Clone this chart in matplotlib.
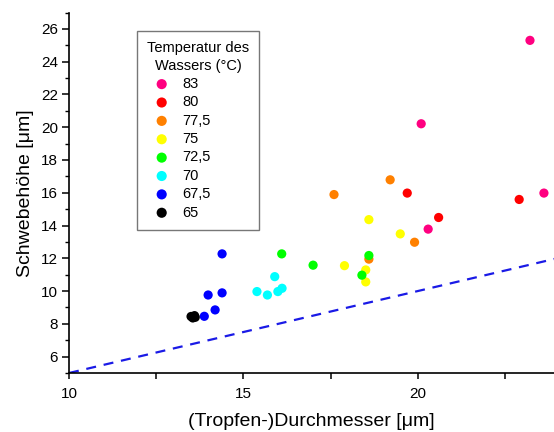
import matplotlib
matplotlib.use("Agg")
import matplotlib.pyplot as plt
from matplotlib.ticker import MultipleLocator, FuncFormatter

plt.rcParams['font.family'] = ['Liberation Sans', 'DejaVu Sans']

# Data: (diameter, height) per water temperature
temps = ["83", "80", "77,5", "75", "72,5", "70", "67,5", "65"]
colors = ["#FF0080", "#FF0000", "#FF8000", "#FFFF00", "#00FF00", "#00FFFF", "#0000FF", "#000000"]

x83 = [23.22, 20.10, 23.62, 20.30]
y83 = [25.30, 20.21, 15.98, 13.78]
x80 = [19.70, 20.60, 22.91]
y80 = [15.98, 14.49, 15.59]
x775 = [17.60, 19.21, 19.91, 18.60]
y775 = [15.89, 16.79, 12.98, 11.95]
x75 = [18.60, 19.50, 17.90, 18.51, 18.51]
y75 = [14.36, 13.49, 11.55, 11.29, 10.56]
x725 = [18.60, 18.40, 17.00, 16.10]
y725 = [12.17, 10.97, 11.58, 12.27]
x70 = [15.90, 15.39, 15.69, 15.99, 16.11]
y70 = [10.88, 9.97, 9.76, 9.97, 10.17]
x675 = [14.39, 13.99, 14.39, 14.19, 13.88]
y675 = [12.27, 9.76, 9.89, 8.85, 8.46]
x65 = [13.50, 13.60, 13.55, 13.62]
y65 = [8.45, 8.50, 8.36, 8.40]

xs = [x83, x80, x775, x75, x725, x70, x675, x65]
ys = [y83, y80, y775, y75, y725, y70, y675, y65]

line_x = [10, 24]
line_y = [5, 12]

fig = plt.figure(figsize=(5.54, 4.32), dpi=100)
ax = fig.add_axes([69/554, 1 - 373/432, 1 - 69/554, (373 - 12.5)/432])

ax.plot(line_x, line_y, color="#1a1aE6", lw=1.6, ls=(0, (4.5, 3.5)), zorder=1)

for x, y, c, t in zip(xs, ys, colors, temps):
    ax.scatter(x, y, s=44, color=c, edgecolors='none', label=t, zorder=3)

ax.set_xlim(10, 10 + (554 - 69) / 34.87)
ax.set_ylim(5, 27)

ax.spines['top'].set_visible(False)
ax.spines['right'].set_visible(False)
for s in ['left', 'bottom']:
    ax.spines[s].set_linewidth(1.2)

ax.xaxis.set_major_locator(MultipleLocator(2.5))
ax.xaxis.set_major_formatter(FuncFormatter(lambda v, p: f"{v:.0f}" if abs(v % 5) < 1e-6 else ""))
ax.yaxis.set_major_locator(MultipleLocator(2))
ax.yaxis.set_minor_locator(MultipleLocator(1))
ax.yaxis.set_major_formatter(FuncFormatter(lambda v, p: "" if v < 5.5 else f"{v:.0f}"))
ax.tick_params(axis='both', which='major', direction='out', width=1.1, labelsize=11)
ax.tick_params(axis='y', which='major', length=5, pad=3)
ax.tick_params(axis='x', which='major', length=4, pad=6)
ax.tick_params(axis='y', which='minor', direction='out', length=3, width=1.0)

ax.set_xlabel("(Tropfen-)Durchmesser [μm]", fontsize=14, labelpad=9)
ax.set_ylabel("Schwebehöhe [μm]", fontsize=14, labelpad=5)

leg = ax.legend(title="Temperatur des\nWassers (°C)", loc='upper left',
                bbox_to_anchor=(0.14, 0.95), borderaxespad=0, fontsize=10.5,
                title_fontsize=10.5, frameon=True, fancybox=False,
                handletextpad=0.4, labelspacing=0.3, borderpad=0.7,
                markerscale=1.1, scatterpoints=1)
leg.get_frame().set_edgecolor("#555555")
leg.get_frame().set_linewidth(1.0)
leg._legend_box.align = "left"
leg.get_title().set_multialignment('center')
leg.get_title().set_linespacing(1.35)

fig.savefig("out.png", dpi=100)
